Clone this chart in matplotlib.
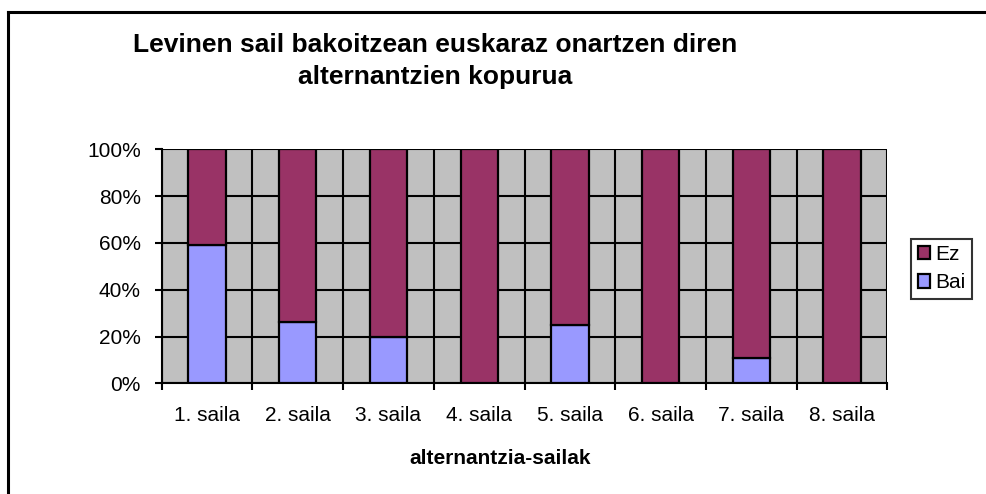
import matplotlib
matplotlib.use("Agg")
import matplotlib.pyplot as plt
import numpy as np
from matplotlib.lines import Line2D
from matplotlib.ticker import MultipleLocator, PercentFormatter

plt.rcParams['font.family'] = ['Liberation Sans', 'DejaVu Sans']

# data (percent of alternatives per series)
sailak = ['1. saila', '2. saila', '3. saila', '4. saila',
          '5. saila', '6. saila', '7. saila', '8. saila']
bai = [59, 26, 20, 0, 25, 0, 11, 0]
ez = [100 - b for b in bai]

title = 'Levinen sail bakoitzean euskaraz onartzen diren\nalternantzien kopurua'
xlabel = 'alternantzia-sailak'

ez_color = '#993366'
bai_color = '#9999FF'

W, H = 986, 494
fig = plt.figure(figsize=(W / 100, H / 100), dpi=100)
ax = fig.add_axes([0.164, 0.224, 0.736, 0.474])
ax.set_facecolor('#C0C0C0')

x = np.arange(len(sailak))
ax.bar(x, bai, width=0.41, color=bai_color, edgecolor='black', linewidth=1.6,
       label='Bai', zorder=3)
ax.bar(x, ez, width=0.41, bottom=bai, color=ez_color, edgecolor='black',
       linewidth=1.6, label='Ez', zorder=3)

ax.set_xlim(-0.5, len(sailak) - 0.5)
ax.set_ylim(0, 100)
ax.yaxis.set_major_locator(MultipleLocator(20))
ax.yaxis.set_major_formatter(PercentFormatter(decimals=0))

# category boundaries carry the ticks and vertical grid lines
ax.set_xticks(np.arange(len(sailak) + 1) - 0.5)
ax.set_xticklabels([])
ax.set_xticks(x, minor=True)
ax.set_xticklabels(sailak, minor=True)
ax.tick_params(axis='x', which='minor', length=0, pad=16, labelsize=15)
ax.tick_params(axis='x', which='major', length=5, width=1.5, direction='out')
ax.tick_params(axis='y', length=5, width=1.5, direction='out', labelsize=15, pad=10)

ax.grid(True, which='major', color='black', linewidth=1.5, zorder=1)
ax.set_axisbelow(True)
for side in ['top', 'right']:
    ax.spines[side].set_visible(False)
ax.spines['left'].set_linewidth(1.5)
ax.spines['bottom'].set_linewidth(1.5)

fig.text(500 / W, 1 - 458 / H, xlabel, ha='center', va='center', fontsize=15,
         fontweight='bold')
fig.text(435 / W, 1 - 61 / H, title, ha='center', va='center', fontsize=19,
         fontweight='bold', linespacing=1.45)

handles, labels = ax.get_legend_handles_labels()
leg = ax.legend(handles[::-1], labels[::-1], loc='center left',
                bbox_to_anchor=(1.033, 0.49), frameon=True, fancybox=False,
                fontsize=15, handlelength=0.6, handleheight=0.6,
                handletextpad=0.25, borderpad=0.3, labelspacing=0.45,
                borderaxespad=0)
leg.get_frame().set_edgecolor('black')
leg.get_frame().set_linewidth(1.5)

# outer chart frame (only left and top edges show in the crop)
fig.add_artist(Line2D([8 / W, 8 / W], [0, 1 - 12 / H], transform=fig.transFigure,
                      color='black', linewidth=2.2))
fig.add_artist(Line2D([8 / W, 1], [1 - 12 / H, 1 - 12 / H], transform=fig.transFigure,
                      color='black', linewidth=2.2))

fig.savefig('out.png', dpi=100)
